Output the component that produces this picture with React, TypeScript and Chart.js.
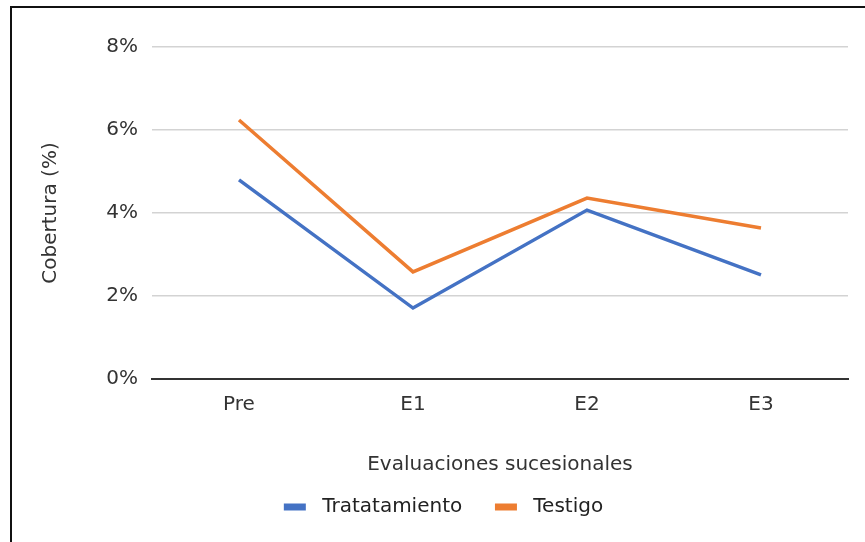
import React, { useEffect, useRef } from "react";
import { Chart, registerables } from "chart.js";

Chart.register(...registerables);

const categories = ["Pre", "E1", "E2", "E3"];
const tratamiento = [4.8, 1.71, 4.07, 2.51];
const testigo = [6.24, 2.58, 4.36, 3.64];
const yTicks = [0, 2, 4, 6, 8];

const FONT = "'DejaVu Sans', sans-serif";

export default function App() {
  const ref = useRef<HTMLCanvasElement | null>(null);

  useEffect(() => {
    if (!ref.current) return;
    const chart = new Chart(ref.current, {
      type: "line",
      data: {
        labels: categories,
        datasets: [
          {
            label: "Tratatamiento",
            data: tratamiento,
            borderColor: "#4472C4",
            backgroundColor: "#4472C4",
            borderWidth: 3.5,
            pointRadius: 0,
            tension: 0,
          },
          {
            label: "Testigo",
            data: testigo,
            borderColor: "#ED7D31",
            backgroundColor: "#ED7D31",
            borderWidth: 3.5,
            pointRadius: 0,
            tension: 0,
          },
        ],
      },
      options: {
        animation: false,
        responsive: true,
        maintainAspectRatio: false,
        layout: { padding: { left: 27, right: 17, top: 39, bottom: 15 } },
        plugins: {
          tooltip: { enabled: false },
          legend: {
            position: "bottom",
            labels: {
              boxWidth: 22,
              boxHeight: 7,
              padding: 20,
              color: "#222",
              font: { family: FONT, size: 20 },
              generateLabels: (c: any) => {
                const items = Chart.defaults.plugins.legend.labels.generateLabels(c);
                return items.map((it: any, i: number) => ({
                  ...it,
                  text: " " + it.text + (i < items.length - 1 ? "  " : ""),
                  lineWidth: 0,
                }));
              },
            },
          },
        },
        scales: {
          x: {
            offset: true,
            grid: { display: false, drawTicks: false },
            border: { display: true, color: "#333", width: 2 },
            ticks: {
              padding: 14,
              color: "#333",
              font: { family: FONT, size: 20 },
            },
            title: {
              display: true,
              text: "Evaluaciones sucesionales",
              color: "#333",
              font: { family: FONT, size: 20 },
              padding: { top: 22, bottom: 0 },
            },
          },
          y: {
            min: 0,
            max: 8,
            afterFit: (s: any) => {
              s.width = 113;
            },
            afterBuildTicks: (s: any) => {
              s.ticks = yTicks.map((v) => ({ value: v }));
            },
            grid: { color: "#d3d3d3", lineWidth: 1.5, drawTicks: false },
            border: { display: false },
            ticks: {
              padding: 14,
              color: "#333",
              font: { family: FONT, size: 20 },
              callback: (v: any) => v + "%",
            },
            title: {
              display: true,
              text: "Cobertura (%)",
              color: "#333",
              font: { family: FONT, size: 20 },
              padding: 0,
            },
          },
        },
      },
    });
    return () => chart.destroy();
  }, []);

  return (
    <div
      style={{
        position: "absolute",
        left: 10,
        top: 6,
        width: 855,
        height: 536,
        borderLeft: "2px solid #111",
        borderTop: "2px solid #111",
        boxSizing: "border-box",
        background: "#fff",
      }}
    >
      <div style={{ position: "relative", width: 853, height: 534 }}>
        <canvas ref={ref} />
      </div>
    </div>
  );
}
